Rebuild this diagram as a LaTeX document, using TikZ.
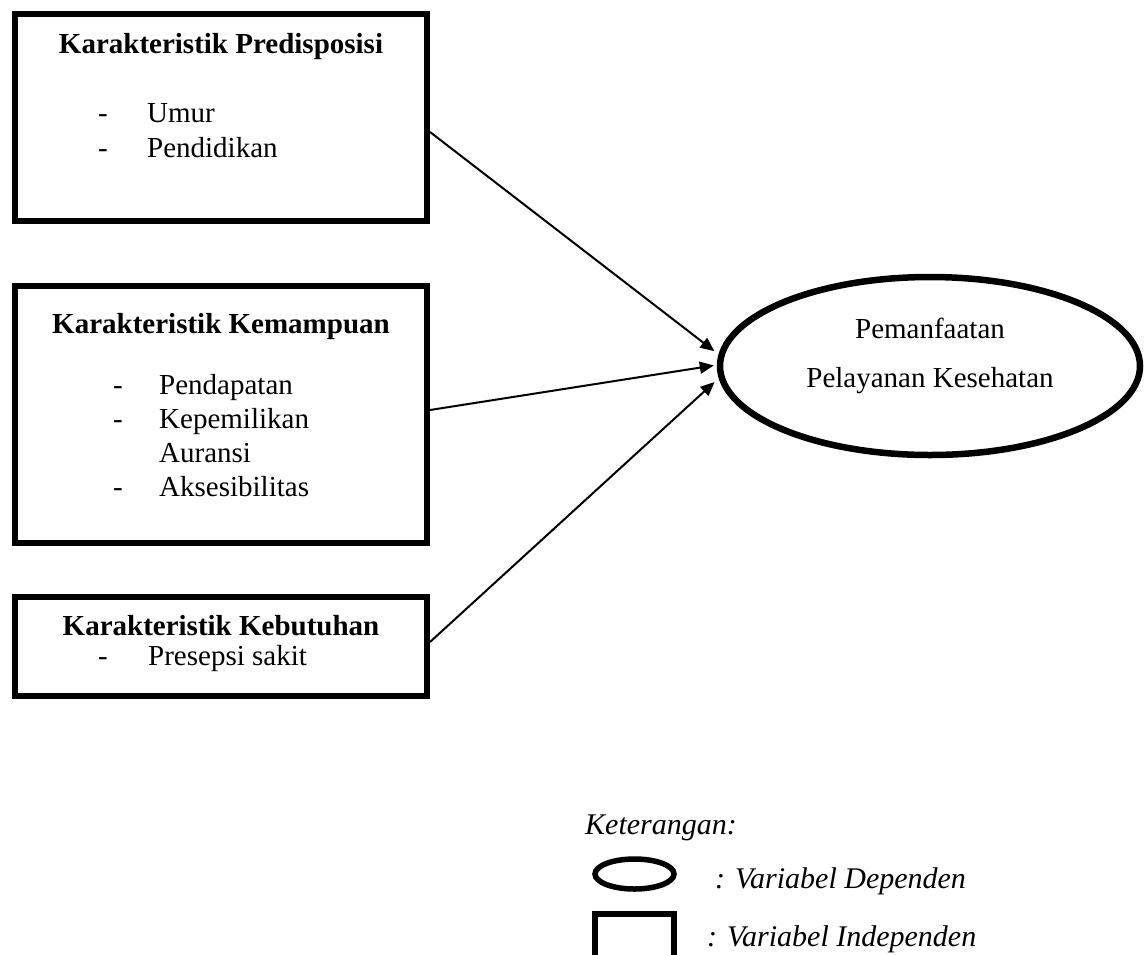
\documentclass[tikz,border=0pt]{standalone}
\usepackage{fontspec}
\setmainfont{Liberation Serif}
\usetikzlibrary{shapes.geometric, arrows.meta}
\begin{document}
\begin{tikzpicture}[x=1pt,y=-1pt,
  varbox/.style={draw,line width=6pt,rectangle,inner sep=0pt,minimum width=412pt},
  depvar/.style={draw,line width=6.5pt,ellipse,inner sep=0pt},
  txt/.style={inner sep=0pt,font=\fontsize{29}{35}\selectfont},
  title/.style={txt,anchor=base,font=\fontsize{29}{35}\selectfont\bfseries},
  items/.style={txt,anchor=base west},
  legtxt/.style={inner sep=0pt,anchor=base west,font=\fontsize{30}{36}\selectfont\itshape},
  conn/.style={line width=2pt,-{Triangle[length=14pt,width=12pt]},shorten >=3pt}]
  \useasboundingbox (0,0) rectangle (1147,954);
  \path (221,117.5) node[varbox,minimum height=207pt] (pre) {}
  (221,414.5) node[varbox,minimum height=257pt] (kem) {}
  (221,646.5) node[varbox,minimum height=99pt] (keb) {}
  (930,366) node[depvar,minimum width=420pt,minimum height=178pt] (dep) {};
  \path (221,53) node[title] (pret) {Karakteristik Predisposisi}
  (98,122) node[items] (prei) {\begin{tabular}[t]{@{}p{49pt}@{}l@{}}-&Umur\\-&Pendidikan\end{tabular}}
  (221,333) node[title] (kemt) {Karakteristik Kemampuan}
  (113,394) node[items,font=\fontsize{29}{34}\selectfont] (kemi) {\begin{tabular}[t]{@{}p{46pt}@{}l@{}}-&Pendapatan\\-&Kepemilikan\\&Auransi\\-&Aksesibilitas\end{tabular}}
  (221,635) node[title] (kebt) {Karakteristik Kebutuhan}
  (98,665) node[items] (kebi) {\begin{tabular}[t]{@{}p{50pt}@{}l@{}}-&Presepsi sakit\end{tabular}}
  (930,338) node[txt,anchor=base] (dept) {Pemanfaatan}
  (930,387) node[txt,anchor=base] (depu) {Pelayanan Kesehatan};
  \draw[conn] ([yshift=-14.5pt]pre.east) -- ([yshift=13pt]dep.west);
  \draw[conn] ([yshift=4.5pt]kem.east) -- ([yshift=1pt]dep.west);
  \draw[conn] ([yshift=4.5pt]keb.east) -- ([yshift=-14pt]dep.west);
  \path (585,834) node[legtxt] (ket) {Keterangan:}
  (634.5,874) node[depvar,line width=5.5pt,minimum width=79pt,minimum height=30pt] (legdep) {}
  (715,888) node[legtxt] (legdept) {: Variabel Dependen}
  (634.5,936) node[draw,line width=6pt,inner sep=0pt,minimum width=79pt,minimum height=44pt] (legind) {}
  (707,946) node[legtxt] (legindt) {: Variabel Independen};
\end{tikzpicture}
\end{document}
